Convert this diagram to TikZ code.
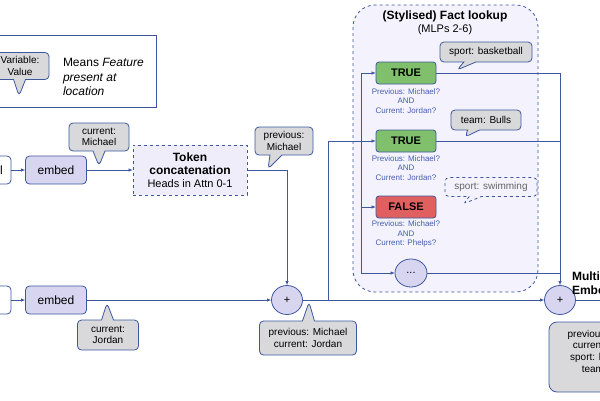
\documentclass[tikz,border=0pt]{standalone}
\usepackage{fontspec}
\setmainfont{Liberation Sans}
\usetikzlibrary{shapes.callouts,shapes.geometric,arrows.meta}
\definecolor{lc}{RGB}{62,88,160}
\definecolor{embedfill}{RGB}{216,213,240}
\definecolor{grayfill}{RGB}{217,217,219}
\definecolor{factfill}{RGB}{244,242,252}
\definecolor{tokenfill}{RGB}{239,237,250}
\definecolor{truefill}{RGB}{128,192,108}
\definecolor{falsefill}{RGB}{224,96,96}
\definecolor{labblue}{RGB}{70,96,176}
\definecolor{graytext}{RGB}{100,100,100}
\begin{document}
\begin{tikzpicture}[x=1pt,y=-1pt,
  every node/.style={inner sep=0pt, outer sep=0pt},
  conn/.style={draw=lc, line width=0.8pt},
  arr/.style={conn, -{Latex[length=4.5pt,width=3.5pt]}},
  stepbox/.style={draw=lc, line width=0.8pt, rounded corners=4pt, fill=embedfill, minimum width=61pt, minimum height=28pt, font=\fontsize{12}{14}\selectfont},
  inbox/.style={stepbox, fill=white, minimum width=58pt},
  bubble/.style={rectangle callout, draw=lc, line width=0.8pt, rounded corners=4pt, fill=grayfill, align=center, font=\fontsize{10}{11.5}\selectfont, callout pointer width=12pt},
  plusnode/.style={ellipse, draw=lc, line width=0.8pt, fill=embedfill, minimum width=31pt, minimum height=29pt, font=\fontsize{11}{13}\selectfont},
  boolbox/.style={draw=lc, line width=0.8pt, rounded corners=3pt, minimum width=60pt, minimum height=22pt, font=\bfseries\fontsize{11}{13}\selectfont},
  condlab/.style={align=center, text=labblue, font=\fontsize{8}{9.5}\selectfont},
]
\useasboundingbox (0,0) rectangle (600,400);

% legend
\node[draw=lc, line width=0.8pt, minimum width=163pt, minimum height=72pt] (legend) at (75,71) {};
\node[bubble, minimum width=58pt, minimum height=27pt, callout absolute pointer={(19,96)}] (legbub) at (20,66) {Variable:\\Value};
\node[anchor=west, align=left, font=\fontsize{12}{14.5}\selectfont] (legtext) at (63,77) {Means \textit{Feature}\\\textit{present at}\\\textit{location}};

% fact lookup box
\path[draw=lc, line width=0.8pt, dashed, fill=factfill, rounded corners=22pt] (353,5) rectangle (538,292);
\node[font=\bfseries\fontsize{12}{14}\selectfont] (facttitle) at (445,16) {(Stylised) Fact lookup};
\node[font=\fontsize{11}{13}\selectfont] (factsub) at (445,30) {(MLPs 2-6)};

% top row
\node[inbox] (left1) at (-18,170) {Michael};
\node[stepbox] (embed1) at (56,170) {embed};
\node[draw=lc, line width=0.8pt, dashed, fill=tokenfill, minimum width=114pt, minimum height=50pt, align=center, font=\fontsize{11}{13}\selectfont] (token) at (190,170) {{\bfseries\fontsize{12}{14}\selectfont Token}\\{\bfseries\fontsize{12}{14}\selectfont concatenation}\\Heads in Attn 0-1};
\draw[arr] (left1) -- (embed1);
\draw[arr] (embed1) -- (token);

% bottom row
\node[inbox] (left2) at (-18,300) {Jordan};
\node[stepbox] (embed2) at (56,300) {embed};
\node[plusnode] (plus1) at (287,300) {+};
\node[plusnode] (plus2) at (560,300) {+};
\draw[arr] (left2) -- (embed2);
\draw[arr] (embed2) -- (plus1);
\draw[arr] (token.east) -| (plus1);
\draw[arr] (plus1) -- (plus2);
\coordinate (outend) at (620,300);
\draw[conn] (plus2) -- (outend);

% callouts on the main rows
\node[bubble, minimum width=60pt, minimum height=28pt, callout absolute pointer={(99,166)}] (curM) at (99,137) {current:\\Michael};
\node[bubble, minimum width=58pt, minimum height=28pt, callout absolute pointer={(268,169)}] (prevM) at (284,141) {previous:\\Michael};
\node[bubble, minimum width=61pt, minimum height=30pt, callout absolute pointer={(107,303)}] (curJ) at (108,335) {current:\\Jordan};
\node[bubble, minimum width=97pt, minimum height=34pt, callout absolute pointer={(309,302)}] (prevcur) at (308,338) {previous: Michael\\current: Jordan};

% fact lookup content
\node[boolbox, fill=truefill] (true1) at (406,73) {TRUE};
\node[condlab] (lab1) at (406,101) {Previous: Michael?\\AND\\Current: Jordan?};
\node[boolbox, fill=truefill] (true2) at (406,141) {TRUE};
\node[condlab] (lab2) at (406,168) {Previous: Michael?\\AND\\Current: Jordan?};
\node[boolbox, fill=falsefill] (false1) at (406,207) {FALSE};
\node[condlab] (lab3) at (406,234) {Previous: Michael?\\AND\\Current: Phelps?};
\node[plusnode, minimum width=32pt, minimum height=28pt] (dots) at (411,273) {...};

\coordinate (br) at (328,300);
\coordinate (sp1) at (361,73);
\coordinate (sp2) at (361,141);
\coordinate (sp3) at (361,207);
\coordinate (sp4) at (361,273);
\draw[conn] (br) |- (sp2);
\draw[conn] (sp1) -- (sp4);
\draw[arr] (sp1) -- (true1);
\draw[arr] (sp2) -- (true2);
\draw[arr] (sp3) -- (false1);
\draw[arr] (sp4) -- (dots);

\draw[arr] (true1.east) -| (plus2);
\draw[conn] (true2.east) -- (true2.east -| plus2);
\draw[conn] (dots.east) -- (dots.east -| plus2);

\node[bubble, minimum width=92pt, minimum height=20pt, callout absolute pointer={(457,70)}] (basket) at (486,52) {sport: basketball};
\node[bubble, minimum width=70pt, minimum height=20pt, callout absolute pointer={(465,137)}] (bulls) at (486,120) {team: Bulls};
\node[bubble, dashed, fill=factfill, text=graytext, minimum width=92pt, minimum height=19pt, callout absolute pointer={(463,204)}] (swim) at (491,187) {sport: swimming};

% output
\node[anchor=north west, align=left, font=\bfseries\fontsize{12}{14}\selectfont] (multi) at (572,272) {Multi-token\\Embedding};
\node[draw=lc, line width=0.8pt, rounded corners=8pt, fill=grayfill, minimum width=116pt, minimum height=70pt, align=center, font=\fontsize{10}{11.7}\selectfont] (final) at (607,357) {previous: Michael\\current: Jordan\\sport: basketball\\team: Bulls\\...};
\end{tikzpicture}
\end{document}
